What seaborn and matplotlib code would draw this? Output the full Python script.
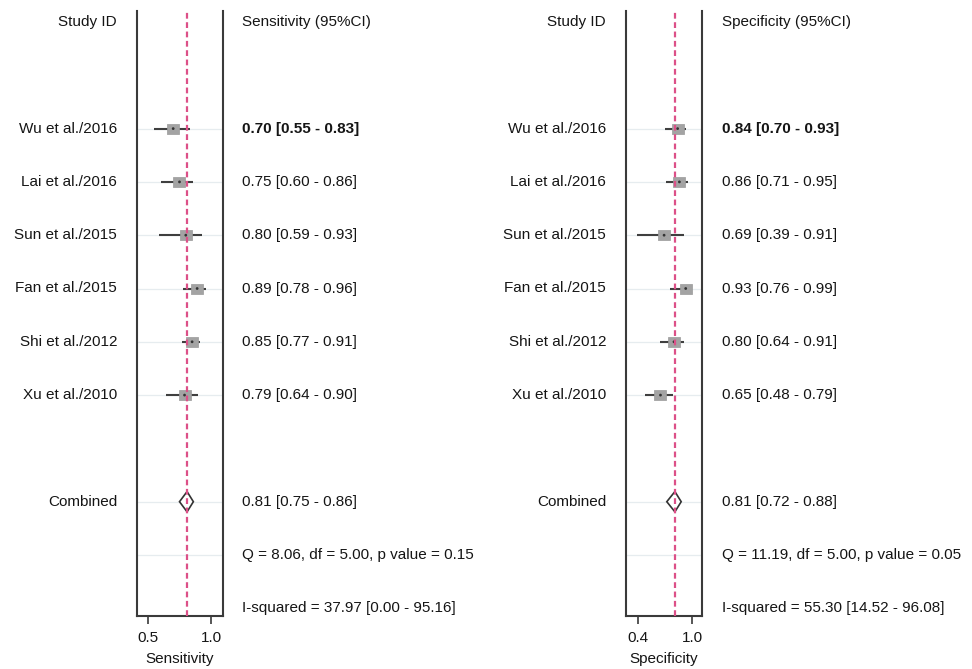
import numpy as np
import pandas as pd
import matplotlib
matplotlib.use("Agg")
import matplotlib.pyplot as plt
import matplotlib.transforms as mtransforms
import seaborn as sns

# ---------------- data ----------------
studies = ["Wu et al./2016", "Lai et al./2016", "Sun et al./2015",
           "Fan et al./2015", "Shi et al./2012", "Xu et al./2010"]
sens = [0.70, 0.75, 0.80, 0.89, 0.85, 0.79]
sens_lo = [0.55, 0.60, 0.59, 0.78, 0.77, 0.64]
sens_hi = [0.83, 0.86, 0.93, 0.96, 0.91, 0.90]
spec = [0.84, 0.86, 0.69, 0.93, 0.80, 0.65]
spec_lo = [0.70, 0.71, 0.39, 0.76, 0.64, 0.48]
spec_hi = [0.93, 0.95, 0.91, 0.99, 0.91, 0.79]
sens_comb = [0.81, 0.75, 0.86]
spec_comb = [0.81, 0.72, 0.88]
sens_stats = ["Q = 8.06, df = 5.00, p value = 0.15",
              "I-squared = 37.97 [0.00 - 95.16]"]
spec_stats = ["Q = 11.19, df = 5.00, p value = 0.05",
              "I-squared = 55.30 [14.52 - 96.08]"]
sens_ticks = [0.5, 1.0]
spec_ticks = [0.4, 1.0]

sns.set_theme(style="white")
plt.rcParams['font.family'] = ['Liberation Sans', 'DejaVu Sans']

W, H = 972, 669
fig = plt.figure(figsize=(W / 100, H / 100), dpi=100)

FS = 11
TXT = "#151515"
study_rows = [2, 3, 4, 5, 6, 7]
comb_row = 9
stat_rows = [10, 11]
AX_TOP, AX_BOT = 11, 616
ROW0, ROWH = 22, 53.3

rect_marker = [(-1.25, -1), (1.25, -1), (1.25, 1), (-1.25, 1), (-1.25, -1)]


def panel(ax_px, xlim, ticks, vals, lo, hi, comb, stats, header, xlabel,
          label_right_px, text_left_px):
    x0, x1 = ax_px
    ax = fig.add_axes([x0 / W, (H - AX_BOT) / H, (x1 - x0) / W,
                       (AX_BOT - AX_TOP) / H])
    ax.set_xlim(*xlim)
    ax.set_ylim((AX_BOT - ROW0) / ROWH, (AX_TOP - ROW0) / ROWH)
    # grid lines
    for r in study_rows + [comb_row, stat_rows[0]]:
        ax.axhline(r, color="#e6ecef", lw=0.9, zorder=0)
    df = pd.DataFrame({"study": studies, "est": vals, "lo": lo, "hi": hi,
                       "row": study_rows})
    ax.hlines(df["row"], df["lo"], df["hi"], color="#3f3f3f", lw=1.5, zorder=2)
    sns.scatterplot(data=df, x="est", y="row", marker=rect_marker, s=80,
                    color="#a3a3a3", edgecolor="#9a9a9a", linewidth=0.5,
                    ax=ax, zorder=3, legend=False)
    sns.scatterplot(data=df, x="est", y="row", marker="o", s=4,
                    color="#333333", edgecolor="none", ax=ax, zorder=4,
                    legend=False)
    # combined diamond
    est, clo, chi = comb
    h = 0.19
    ax.fill([clo, est, chi, est, clo],
            [comb_row, comb_row - h, comb_row, comb_row + h, comb_row],
            facecolor="white", edgecolor="#333333", lw=1.2, zorder=3)
    # reference dashed line
    ax.axvline(est, color="#dc5088", lw=1.6, ls=(0, (2.6, 1.6)), zorder=5)
    # spines
    for s in ["left", "right", "bottom"]:
        ax.spines[s].set_visible(True)
        ax.spines[s].set_color("#3a3a3a")
        ax.spines[s].set_linewidth(1.5)
    ax.spines["top"].set_visible(False)
    ax.set_yticks([])
    ax.set_xticks(ticks)
    ax.set_xticklabels([f"{t:.1f}" for t in ticks], fontsize=FS, color=TXT)
    ax.tick_params(axis="x", direction="out", length=6, width=1.2,
                   color="#3a3a3a", pad=5, bottom=True)
    ax.set_xlabel(xlabel, fontsize=FS, color=TXT, labelpad=5)
    ax.set_ylabel("")

    tr = mtransforms.blended_transform_factory(fig.transFigure, ax.transData)
    # left labels
    ax.text(label_right_px / W, 0, "Study ID", transform=tr, ha="right",
            va="center", fontsize=FS, color=TXT, clip_on=False)
    for r, s_ in zip(study_rows, studies):
        ax.text(label_right_px / W, r, s_, transform=tr, ha="right",
                va="center", fontsize=FS, color=TXT, clip_on=False)
    ax.text(label_right_px / W, comb_row, "Combined", transform=tr,
            ha="right", va="center", fontsize=FS, color=TXT, clip_on=False)
    # right labels
    ax.text(text_left_px / W, 0, header, transform=tr, ha="left",
            va="center", fontsize=FS, color=TXT, clip_on=False)
    for i, (r, v, l, u) in enumerate(zip(study_rows, vals, lo, hi)):
        ax.text(text_left_px / W, r, f"{v:.2f} [{l:.2f} - {u:.2f}]",
                transform=tr, ha="left", va="center", fontsize=FS,
                color=TXT, fontweight="bold" if i == 0 else "normal",
                clip_on=False)
    ax.text(text_left_px / W, comb_row, f"{est:.2f} [{clo:.2f} - {chi:.2f}]",
            transform=tr, ha="left", va="center", fontsize=FS, color=TXT,
            clip_on=False)
    for r, s_ in zip(stat_rows, stats):
        ax.text(text_left_px / W, r, s_, transform=tr, ha="left",
                va="center", fontsize=FS, color=TXT, clip_on=False)
    return ax


panel((137, 223), (0.413, 1.095), sens_ticks, sens, sens_lo, sens_hi,
      sens_comb, sens_stats, "Sensitivity (95%CI)", "Sensitivity", 117, 242)
panel((626, 702), (0.267, 1.111), spec_ticks, spec, spec_lo, spec_hi,
      spec_comb, spec_stats, "Specificity (95%CI)", "Specificity", 606, 722)

fig.savefig("out.png", dpi=100)
